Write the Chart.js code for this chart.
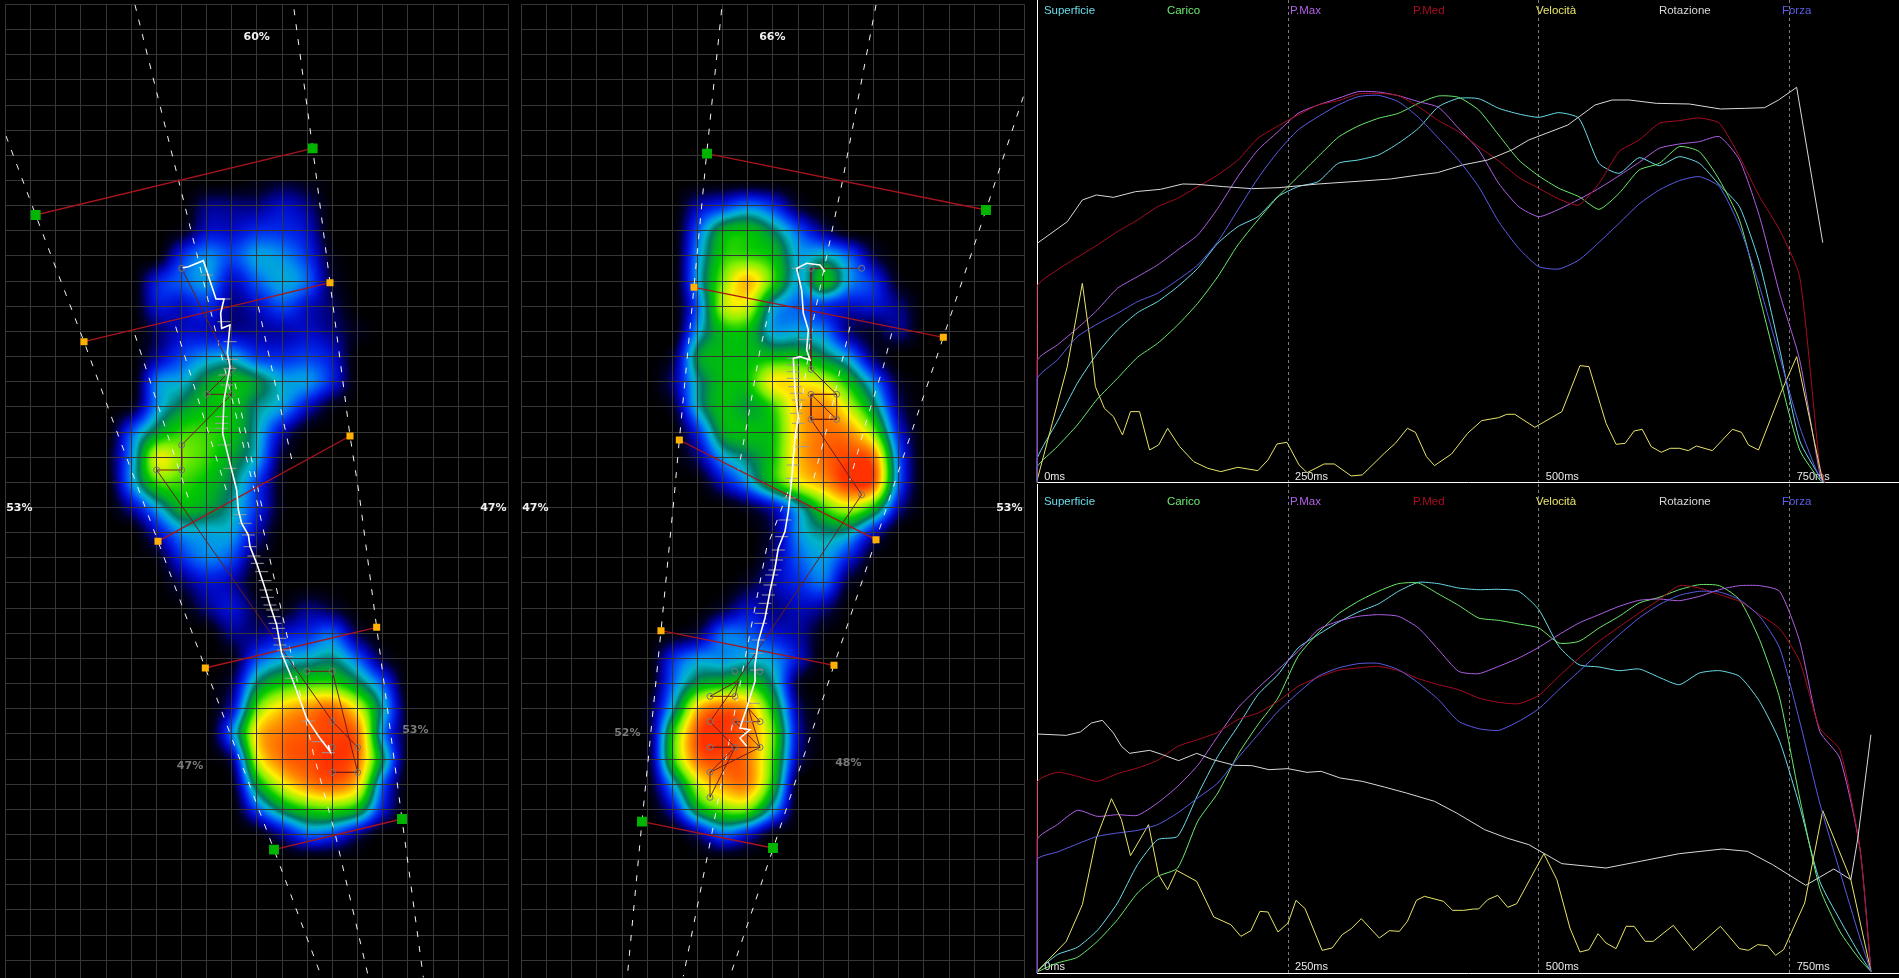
<!DOCTYPE html>
<html>
<head>
<meta charset="utf-8">
<title>Baropodometria</title>
<script src="https://cdn.jsdelivr.net/npm/chart.js@4/dist/chart.umd.js"></script>
<style>
html, body { margin: 0; height: 100%; background: #000; overflow: hidden; }
canvas { position: absolute; display: block; }
</style>
</head>
<body>
<canvas id="leftFoot" width="520" height="978" style="left:0;top:0"></canvas>
<canvas id="rightFoot" width="510" height="978" style="left:520px;top:0"></canvas>
<canvas id="topGraph" width="869" height="484" style="left:1030px;top:0"></canvas>
<canvas id="bottomGraph" width="869" height="494" style="left:1030px;top:484px"></canvas>
<script>
// ---- foot maps: sensor grid, in units of 1/3 px of the original picture
const gridYTicks = [13,88,163,238,316,391,466,541,616,691,766,844,919,994,1069,1144,1219,1297,1372,1447,1522,1597,1672,1747,1825,1900,1975,2050,2125,2200,2278,2353,2428,2503,2578,2653,2728,2806,2881];
const leftGridX = [17,92,167,241,320,395,470,545,620,695,770,848,923,997,1073,1148,1223,1300,1375,1451,1524];
const rightGridX = [5,80,155,230,308,383,458,533,608,683,758,836,911,986,1061,1136,1211,1289,1364,1439,1512];

// pressure at grid crossings, columns 4..16, rows 7..34
const leftFootHeat = [
  [0,0,0,0,0,0,.2,.5,.3,0,0,0,0],
  [0,0,0,0,1,1,1,1.5,1,0,0,0,0],
  [0,0,0,.3,1.5,1.5,2,2,1.5,0,0,0,0],
  [0,0,.1,2,2.9,2.3,3.1,2.9,2,.3,0,0,0],
  [0,0,1.8,2.5,3,1.5,2.5,3.2,2.5,.5,0,0,0],
  [0,0,1.6,1.5,2,1,1.5,2.3,1.5,.8,0,0,0],
  [0,0,.8,1.5,1.5,1.2,1.2,1.3,1.5,1,.3,0,0],
  [0,0,1.2,2.3,3,3.2,2.2,2,2.2,1.6,0,0,0],
  [0,0,2.8,3.3,4.5,5,4.3,3.2,3,1.8,0,0,0],
  [0,.4,3,4.3,5,5,3.8,3,1.5,.3,0,0,0],
  [0,2.5,4.5,5.5,5.5,5,3.5,1.3,.1,0,0,0,0],
  [.3,3,6.7,6,5.5,4.5,3.2,.5,0,0,0,0,0],
  [.1,3,5.5,5.5,5,4,2.2,.2,0,0,0,0,0],
  [0,1.3,3.2,4.8,4.5,3.6,2,.2,0,0,0,0,0],
  [0,0,1.5,3,3.2,3.1,1.3,0,0,0,0,0,0],
  [0,0,.3,2,2.8,2.3,.5,0,0,0,0,0,0],
  [0,0,0,.8,1.6,1.3,.2,0,0,0,0,0,0],
  [0,0,0,.1,1,1.6,.6,.3,1,.6,0,0,0],
  [0,0,0,0,0,1,1,1.6,2,2.5,.7,0,0],
  [0,0,0,0,0,.3,2.3,3.2,3.5,3.8,2.5,.6,0],
  [0,0,0,0,0,.8,4,5.2,5.5,5.5,4.3,2.4,0],
  [0,0,0,0,0,1.5,5.8,7.4,8,8.4,6.8,3.5,.3],
  [0,0,0,0,0,2.8,7.2,8.3,8.6,8.8,8.2,3,.4],
  [0,0,0,0,0,1,6.5,8.3,8.7,9,8.2,4,.2],
  [0,0,0,0,0,.3,4.5,6.8,8,8.4,7.2,2.5,0],
  [0,0,0,0,0,0,2.3,4.3,5.3,5.5,4.7,1.7,0],
  [0,0,0,0,0,0,.1,1.2,2.5,2.2,1,0,0],
  [0,0,0,0,0,0,0,0,0,0,0,0,0]
];
const rightFootHeat = [
  [0,0,0,0,0,0,0,0,0,0,0,0,0],
  [0,0,0,1.3,2,2.7,2,.5,0,0,0,0,0],
  [0,0,0,2.5,4.7,5,4,2.4,1,.1,0,0,0],
  [0,0,0,3,5.3,5.5,5,3.2,3.5,2.5,.7,0,0],
  [0,0,0,3.2,6,7.5,5.5,3.2,5,3,2,.3,0],
  [0,0,0,2.6,6.3,6.5,3.4,2.5,2,1.5,1.6,1,0],
  [0,0,0,3.2,5,5,3.2,3.2,2.8,1,.5,1,0],
  [0,0,.6,4.3,5,5,5,5,4.2,3,.8,0,0],
  [0,0,1,3.7,5,5.2,7,7,6.5,5,2.8,.5,0],
  [0,0,.5,3.5,5,4.5,5.5,7.5,8,6.5,4.2,1,0],
  [0,0,0,2,4.6,5,5.2,7.5,8.3,8,6,1.8,0],
  [0,0,0,1,3.1,4,5.2,7.5,8.4,8.8,8.2,2.5,0],
  [0,0,0,.1,1.5,3,5,6.8,7.8,9,8.5,2.5,0],
  [0,0,0,0,0,.5,1.5,3.5,5.5,6.5,5,1.3,0],
  [0,0,0,0,0,0,.8,3,3.8,3.5,1.5,0,0],
  [0,0,0,0,0,0,1,2.5,3.1,1.8,.2,0,0],
  [0,0,0,0,0,.5,1.3,2,2.6,.5,0,0,0],
  [0,0,0,0,.6,1.5,1,1.4,1,0,0,0,0],
  [0,0,.2,.8,2.6,2.5,1.7,1.2,.2,0,0,0,0],
  [0,0,2,3,3,3.3,3,1.5,0,0,0,0,0],
  [0,0,2.6,4.5,5,5.3,3.8,.5,0,0,0,0,0],
  [0,.4,3.6,7.5,8.5,7.8,5,1,0,0,0,0,0],
  [0,.4,5.3,8.7,9,8.2,5.8,1.3,0,0,0,0,0],
  [0,.4,5.3,8.3,8.7,8.2,5.5,1,0,0,0,0,0],
  [0,.2,3.2,6.5,7.8,8,5,.1,0,0,0,0,0],
  [0,0,1.5,4.6,5.8,5.8,3.2,0,0,0,0,0,0],
  [0,0,0,1,2.5,1.6,.2,0,0,0,0,0,0],
  [0,0,0,0,0,0,0,0,0,0,0,0,0]
];

// dashed guide lines
const leftGuides = [
  [[18,408],[107,645],[252,1025],[345,1280],[474,1624],[616,2004],[822,2549],[965,2932]],
  [[882,28],[938,445],[990,848],[1050,1308],[1078,1486],[1130,1882],[1206,2457],[1270,2932]],
  [[405,15],[590,760],[770,1500],[940,2260],[1005,2500],[1105,2930]],
  [[405,1005],[570,1510]],
  [[527,980],[685,1490]],
  [[775,920],[880,1400]],
  [[705,1150],[790,1540]]
];
const rightGuides = [
  [[605,28],[560,460],[522,860],[478,1320],[463,1484],[423,1892],[366,2464],[322,2929]],
  [[1510,290],[1398,630],[1270,1012],[1140,1400],[1068,1619],[942,1996],[760,2544],[630,2929]],
  [[1068,15],[968,540],[880,960],[808,1464],[740,1644],[650,2104],[575,2504],[490,2929]],
  [[750,920],[720,1050],[685,1250],[655,1410]],
  [[990,980],[960,1110],[930,1250],[880,1440]],
  [[1115,1000],[1090,1100],[1040,1260],[990,1440]]
];

const leftRedLines = [
  [[107,645],[938,445]], [[252,1025],[990,848]], [[1050,1308],[474,1624]], [[616,2004],[1130,1882]], [[822,2549],[1206,2457]]
];
const rightRedLines = [
  [[561,461],[1398,630]], [[522,862],[1270,1012]], [[478,1320],[1068,1619]], [[423,1892],[942,1996]], [[366,2465],[759,2544]]
];
const leftGreenMarks = [[107,645],[938,445],[822,2549],[1206,2457]];
const rightGreenMarks = [[561,461],[1398,630],[366,2465],[759,2544]];
const leftOrangeMarks = [[252,1025],[990,848],[1050,1308],[474,1624],[616,2004],[1130,1882]];
const rightOrangeMarks = [[522,862],[1270,1012],[478,1320],[1068,1619],[423,1892],[942,1996]];

// centre of pressure and its gait steps
const leftCop = [[548,803],[565,800],[610,782],[648,897],[672,897],[662,940],[665,985],[690,975],[682,1060],[690,1100],[672,1200],[668,1300],[690,1390],[710,1470],[715,1530],[725,1570],[745,1605],[750,1640],[770,1690],[795,1765],[810,1815],[830,1875],[845,1960],[880,2045],[920,2155],[960,2215],[990,2254],[985,2235]];
const rightCop = [[915,815],[900,795],[860,790],[830,805],[845,870],[850,940],[865,990],[860,1050],[870,1080],[840,1070],[820,1075],[825,1170],[835,1250],[825,1310],[815,1440],[805,1534],[795,1594],[775,1644],[765,1704],[750,1774],[735,1854],[715,1924],[705,1994],[705,2044],[680,2124],[660,2184],[690,2189],[660,2214],[680,2239]];
const leftSteps = [[620,825],[672,897],[672,965],[690,1025],[695,1078],[690,1105],[675,1125],[680,1155],[665,1250],[665,1270],[665,1285],[672,1335],[690,1405],[720,1544],[735,1570],[745,1605],[750,1640],[762,1668],[772,1690],[785,1715],[795,1742],[798,1770],[802,1792],[810,1815],[818,1830],[822,1850],[825,1870],[835,1885],[840,1915],[840,1935],[850,1950],[860,1970],[875,2035],[925,2163],[955,2225],[985,2258]];
const rightSteps = [[835,805],[855,1018],[820,1075],[820,1095],[820,1115],[820,1135],[825,1160],[830,1180],[835,1200],[830,1240],[835,1270],[848,1340],[820,1395],[815,1435],[808,1494],[795,1560],[785,1610],[775,1650],[770,1680],[765,1710],[755,1725],[750,1755],[745,1785],[735,1810],[725,1840],[722,1870],[715,1920],[710,1960],[710,2010],[700,2110],[680,2165]];

// thin path through the peak cells
const leftPeakPath = [[545,805],[695,1108],[620,1183],[695,1183],[545,1335],[545,1410],[470,1410],[997,2164],[1073,2242],[1073,2317],[997,2317],[1073,2317],[997,2014],[920,2014]];
const rightPeakPath = [[1025,805],[873,805],[873,1108],[950,1183],[873,1183],[873,1258],[950,1258],[950,1183],[873,1183],[950,1258],[873,1258],[1025,1484],[650,2044],[570,2089],[645,2089],[655,2044],[570,2165],[645,2242],[570,2242],[720,2242],[685,2125],[720,2165],[645,2165],[720,2242],[570,2317],[645,2242],[570,2392],[570,2317]];
const leftPeakNodes = [[545,805],[695,1108],[620,1183],[695,1183],[545,1335],[545,1410],[470,1410],[920,2014],[997,2014],[997,2164],[997,2242],[1073,2242],[997,2317],[1073,2317]];
const rightPeakNodes = [[1025,805],[873,805],[873,1108],[950,1183],[873,1183],[873,1258],[950,1258],[1025,1484],[645,2014],[720,2014],[570,2089],[645,2089],[570,2165],[645,2165],[720,2165],[570,2242],[645,2242],[720,2242],[570,2317],[570,2392]];

const leftLabels = [['60%',770,110],['53%',58,1524],['47%',1480,1524]];
const leftGreyLabels = [['53%',1246,2190],['47%',570,2298]];
const rightLabels = [['66%',757,110],['47%',46,1524],['53%',1468,1524]];
const rightGreyLabels = [['52%',322,2199],['48%',985,2289]];

// ---- graphs
const seriesNames = ['Superficie','Carico','P.Max','P.Med','Velocità','Rotazione','Forza'];
const seriesColors = ['#6adcea','#6cea6c','#b060e6','#a80c22','#e8e468','#d8d8d8','#5c5ce8'];
const graphTicks = [0,250,500,750];

const topTimes = [0,0,20,40,60,80,100,120,140,160,180,200,220,240,260,280,300,320,340,360,380,400,420,440,460,480,500,520,540,560,580,600,620,640,660,680,700,720,740,760,780,785];
const topSuperficie = [0,72,182,297,387,457,509,542,587,642,717,767,797,857,887,902,957,967,982,1017,1062,1127,1152,1151,1122,1105,1095,1109,1092,957,927,974,950,977,957,892,827,657,400,125,17,0];
const topCarico = [0,47,107,172,250,312,375,417,472,537,617,712,787,857,917,977,1035,1069,1092,1107,1137,1159,1155,1117,1042,967,919,882,857,819,867,937,957,1007,992,907,787,557,317,97,7,0];
const topPMax = [0,365,412,462,517,582,617,652,697,742,822,917,997,1052,1107,1132,1152,1172,1171,1160,1142,1125,1062,997,897,827,797,819,849,882,920,960,1002,1015,1022,1037,967,797,567,367,27,0];
const topPMed = [0,587,637,675,712,752,787,827,852,887,922,967,1032,1069,1102,1132,1145,1165,1167,1160,1127,1085,1052,1007,964,915,882,850,832,897,992,1027,1077,1085,1093,1077,977,857,757,617,47,0];
const topForza = [0,310,367,437,475,507,542,567,607,652,722,817,912,992,1057,1097,1132,1157,1161,1142,1095,1032,967,887,782,702,647,640,667,720,777,835,877,905,917,887,767,587,377,167,12,0];
const topVelocitaT = [0,15,30,45,54,58,67,76,85,93,102,112,121,130,142,156,170,183,200,220,230,239,249,261,269,286,296,313,324,346,357,369,377,388,396,413,429,443,460,468,476,496,523,541,550,567,577,586,595,603,612,622,631,640,649,657,673,693,702,709,719,741,757,783];
const topVelocita = [7,177,347,597,397,287,222,197,142,212,212,97,112,162,107,62,42,32,45,35,67,115,120,52,29,55,55,19,22,87,117,162,150,77,50,85,147,185,194,204,204,165,212,350,347,177,114,117,154,159,107,90,102,102,95,109,95,159,150,112,97,267,377,2];
const topRotazioneT = [0,30,45,59,76,98,123,145,159,186,214,241,280,324,352,380,399,424,449,473,490,529,556,573,590,617,650,681,706,725,739,757,783];
const topRotazione = [717,782,847,862,855,872,879,895,894,887,881,884,895,904,910,922,929,952,967,997,1027,1072,1132,1147,1147,1137,1135,1120,1122,1124,1147,1185,719];

const bottomTimes = [0,0,20,40,60,80,100,120,140,160,180,200,220,240,260,280,300,320,340,360,380,400,420,440,460,480,500,520,540,560,580,600,620,640,660,680,700,720,740,760,780,800,820,831];
const bottomSuperficie = [0,5,55,77,128,210,325,400,410,535,650,740,835,895,975,1015,1052,1083,1107,1145,1172,1168,1155,1150,1151,1145,1090,980,925,918,907,912,887,865,900,907,890,815,695,500,275,160,55,5];
const bottomCarico = [0,3,30,47,95,160,240,290,315,455,540,655,745,825,950,1020,1077,1115,1145,1168,1170,1137,1103,1065,1058,1047,1035,990,995,1035,1070,1110,1127,1150,1165,1162,1120,1000,825,525,255,125,40,5];
const bottomPMax = [0,400,445,488,470,475,473,510,560,623,710,795,855,910,965,1030,1055,1070,1075,1070,1035,970,905,898,920,945,977,1015,1050,1075,1100,1118,1122,1117,1130,1150,1162,1162,1145,995,725,645,375,5];
const bottomPMed = [0,572,602,590,575,598,615,638,680,700,722,760,780,815,860,887,908,915,920,907,883,865,850,825,812,808,833,890,945,995,1038,1080,1120,1162,1155,1135,1115,1075,1033,935,735,670,375,5];
const bottomForza = [0,340,363,387,410,420,428,445,480,525,570,645,715,785,840,890,915,928,929,910,870,820,755,733,728,755,793,850,905,960,1015,1065,1105,1133,1145,1143,1120,1070,975,755,510,305,105,5];
const bottomVelocitaT = [0,29,45,59,74,84,93,111,121,130,139,159,176,193,203,213,222,230,240,250,258,267,284,294,304,313,323,341,351,361,369,378,386,405,414,425,435,440,449,459,469,478,505,518,531,541,550,559,567,577,587,595,606,614,634,654,681,700,709,718,728,736,744,765,783,811,831];
const bottomVelocita = [5,95,205,405,523,460,352,445,295,250,308,275,168,145,110,127,185,183,123,150,218,193,68,75,115,133,163,105,127,125,155,218,230,215,188,188,192,192,220,233,197,208,358,280,135,63,70,118,90,73,140,140,95,95,143,68,140,73,68,85,82,53,70,210,487,280,5];
const bottomRotazioneT = [0,29,43,54,65,76,84,92,112,125,141,159,175,197,214,231,250,269,283,302,324,346,368,396,418,446,468,490,523,567,601,640,683,708,733,766,794,811,818,831];
const bottomRotazione = [717,713,723,750,758,720,680,659,668,655,637,659,640,623,622,610,613,602,605,585,575,558,540,515,480,430,405,385,328,315,335,358,372,365,325,263,312,280,405,715];

// ---- colour scale of the pressure map
const heatStops = [
  [0,0,0,0],[.5,0,0,40],[1,0,0,130],[1.5,0,10,200],[2,0,40,235],[2.5,0,90,245],[3,0,150,235],[3.4,0,180,200],[4,0,120,100],
  [4.6,0,170,40],[5.2,0,200,0],[6,130,240,0],[7,255,240,0],[8,255,140,0],[9,255,50,0]
];

function heatColor(v) {
    if (v <= 0) return [0,0,0];
    for (let i = 1; i < heatStops.length; i++) {
        if (v <= heatStops[i][0]) {
            const a = heatStops[i-1], b = heatStops[i];
            const t = (v - a[0]) / (b[0] - a[0]);
            return [a[1] + (b[1]-a[1])*t, a[2] + (b[2]-a[2])*t, a[3] + (b[3]-a[3])*t];
        }
    }
    return [255,50,0];
}

function catmull(p0, p1, p2, p3, t) {
    return p1 + 0.5*t*(p2-p0 + t*(2*p0-5*p1+4*p2-p3 + t*(3*(p1-p2)+p3-p0)));
}

function gridPos(nodes, v) {
    if (v <= nodes[0]) return 0;
    for (let i = 1; i < nodes.length; i++) {
        if (v <= nodes[i]) return i - 1 + (v - nodes[i-1]) / (nodes[i] - nodes[i-1]);
    }
    return nodes.length - 1;
}

function sampleHeat(values, cx, cy) {
    const rows = values.length, cols = values[0].length;
    const ix = Math.min(Math.floor(cx), cols-2), iy = Math.min(Math.floor(cy), rows-2);
    const at = (r, c) => values[Math.max(0, Math.min(rows-1, r))][Math.max(0, Math.min(cols-1, c))];
    const line = [];
    for (let r = iy-1; r <= iy+2; r++) {
        line.push(catmull(at(r,ix-1), at(r,ix), at(r,ix+1), at(r,ix+2), cx-ix));
    }
    return catmull(line[0], line[1], line[2], line[3], cy-iy);
}

// paints the map under the grid, positions come from the chart scales
function heatPlugin(values, gridX) {
    const colNodes = gridX.slice(4, 17), rowNodes = gridYTicks.slice(7, 35);
    return {
        id: 'heat',
        beforeDraw(chart) {
            const xs = chart.scales.x, ys = chart.scales.y;
            const left = Math.floor(xs.getPixelForValue(colNodes[0]));
            const right = Math.ceil(xs.getPixelForValue(colNodes[colNodes.length-1]));
            const top = Math.floor(ys.getPixelForValue(rowNodes[0]));
            const bottom = Math.ceil(ys.getPixelForValue(rowNodes[rowNodes.length-1]));
            const off = document.createElement('canvas');
            off.width = right - left; off.height = bottom - top;
            const octx = off.getContext('2d');
            const img = octx.createImageData(off.width, off.height);
            let n = 0;
            for (let py = top; py < bottom; py++) {
                const cy = gridPos(rowNodes, ys.getValueForPixel(py));
                for (let px = left; px < right; px++) {
                    const cx = gridPos(colNodes, xs.getValueForPixel(px));
                    const c = heatColor(sampleHeat(values, cx, cy));
                    img.data[n++] = c[0]; img.data[n++] = c[1]; img.data[n++] = c[2]; img.data[n++] = 255;
                }
            }
            octx.putImageData(img, 0, 0);
            chart.ctx.drawImage(off, left, top);
        }
    };
}

function labelPlugin(labels, color) {
    return {
        id: 'percent' + color.slice(1),
        afterDatasetsDraw(chart) {
            const ctx = chart.ctx;
            ctx.save();
            ctx.font = 'bold 11px "DejaVu Sans"';
            ctx.fillStyle = color;
            ctx.textAlign = 'center';
            ctx.textBaseline = 'middle';
            labels.forEach(l => ctx.fillText(l[0], chart.scales.x.getPixelForValue(l[1]), chart.scales.y.getPixelForValue(l[2])));
            ctx.restore();
        }
    };
}

const toPoints = list => list.map(p => ({ x: p[0], y: p[1] }));

function footChart(id, foot) {
    const guides = foot.guides.map(g => ({
        data: toPoints(g), showLine: true, borderColor: '#f4f4f4', borderWidth: 1, borderDash: [6,9], pointRadius: 0, tension: 0
    }));
    const reds = foot.reds.map(r => ({
        data: toPoints(r), showLine: true, borderColor: '#a8141c', borderWidth: 1.3, pointRadius: 0
    }));
    const datasets = [...guides, ...reds,
        { data: toPoints(foot.peak), showLine: true, borderColor: '#6e1c1c', borderWidth: 1, pointRadius: 0 },
        { data: toPoints(foot.nodes), showLine: false, pointRadius: 3, pointBackgroundColor: 'transparent', pointBorderColor: '#777', pointBorderWidth: 1 },
        { data: toPoints(foot.steps), showLine: false, pointStyle: 'line', pointRadius: 6.5, pointBorderColor: '#999', pointBorderWidth: 1 },
        { data: toPoints(foot.cop), showLine: true, borderColor: '#ffffff', borderWidth: 1.6, pointRadius: 0 },
        { data: toPoints(foot.green), showLine: false, pointStyle: 'rect', pointRadius: 7, pointBackgroundColor: '#00b400', pointBorderWidth: 0 },
        { data: toPoints(foot.orange), showLine: false, pointStyle: 'rect', pointRadius: 5, pointBackgroundColor: '#ffb000', pointBorderWidth: 0 }
    ];
    datasets.forEach((d, i) => { d.order = -i; });
    return new Chart(document.getElementById(id), {
        type: 'scatter',
        data: { datasets },
        plugins: [heatPlugin(foot.heat, foot.gridX), labelPlugin(foot.labels, '#f0f0f0'), labelPlugin(foot.grey, '#7a7a7a')],
        options: {
            responsive: false,
            animation: false,
            events: [],
            layout: { autoPadding: false, padding: foot.padding },
            plugins: { legend: { display: false }, tooltip: { enabled: false } },
            scales: {
                x: {
                    type: 'linear', min: foot.gridX[0], max: foot.gridX[foot.gridX.length-1],
                    afterBuildTicks: s => { s.ticks = foot.gridX.map(v => ({ value: v })); },
                    afterFit: s => { s.height = 0; },
                    grid: { color: '#363636', drawTicks: false },
                    border: { display: false },
                    ticks: { display: false }
                },
                y: {
                    type: 'linear', reverse: true, min: 13, max: 2934,
                    afterBuildTicks: s => { s.ticks = gridYTicks.map(v => ({ value: v })); },
                    afterFit: s => { s.width = 0; },
                    grid: { color: '#363636', drawTicks: false },
                    border: { display: false },
                    ticks: { display: false }
                }
            }
        }
    });
}

const legendPlugin = {
    id: 'topLegend',
    afterDraw(chart) {
        const ctx = chart.ctx;
        const y = chart.options.plugins.topLegend.y;
        ctx.save();
        ctx.font = '11.5px "Liberation Sans"';
        ctx.textBaseline = 'middle';
        seriesNames.forEach((name, i) => {
            ctx.fillStyle = seriesColors[i];
            ctx.fillText(name, 1043.9 - 1030 + 123 * i, y);
        });
        ctx.restore();
    }
};

function graphChart(id, graph) {
    const zip = (ts, vs) => ts.map((t, i) => ({ x: t, y: vs[i] }));
    const series = [
        zip(graph.times, graph.superficie), zip(graph.times, graph.carico), zip(graph.times, graph.pMax), zip(graph.times, graph.pMed),
        zip(graph.velocitaT, graph.velocita), zip(graph.rotazioneT, graph.rotazione), zip(graph.times, graph.forza)
    ];
    const datasets = series.map((data, i) => ({
        label: seriesNames[i], data, showLine: true, borderColor: seriesColors[i], borderWidth: 1,
        pointRadius: 0, tension: (i === 4 || i === 5) ? 0 : 0.2, clip: false, order: -i
    }));
    return new Chart(document.getElementById(id), {
        type: 'scatter',
        data: { datasets },
        plugins: [legendPlugin],
        options: {
            responsive: false,
            animation: false,
            events: [],
            layout: { autoPadding: false, padding: { left: 7.2, right: 0, top: 0, bottom: graph.bottomPad } },
            plugins: { legend: { display: false }, tooltip: { enabled: false }, topLegend: { y: graph.legendY } },
            scales: {
                x: {
                    type: 'linear', min: 0, max: 859,
                    afterBuildTicks: s => { s.ticks = graphTicks.map(v => ({ value: v })); },
                    afterFit: s => { s.height = 0; },
                    grid: { color: c => c.index === 0 ? 'transparent' : '#7c7c7c', drawTicks: false },
                    border: { display: true, color: '#ffffff', width: 1, dash: [3,3] },
                    ticks: {
                        color: '#e8e8e8', font: { family: 'Liberation Sans', size: 11 }, align: 'start', labelOffset: 7, mirror: true,
                        padding: -1, maxRotation: 0, autoSkip: false, callback: v => v + 'ms'
                    }
                },
                y: {
                    type: 'linear', min: 0, max: graph.yMax,
                    afterFit: s => { s.width = 0; },
                    grid: { display: false },
                    border: { display: true, color: '#ffffff', width: 1 },
                    ticks: { display: false }
                }
            }
        }
    });
}

footChart('leftFoot', {
    heat: leftFootHeat, gridX: leftGridX, guides: leftGuides, reds: leftRedLines, peak: leftPeakPath, nodes: leftPeakNodes,
    steps: leftSteps, cop: leftCop, green: leftGreenMarks, orange: leftOrangeMarks, labels: leftLabels, grey: leftGreyLabels,
    padding: { left: 5.67, right: 12, top: 4.33, bottom: 0 }
});
footChart('rightFoot', {
    heat: rightFootHeat, gridX: rightGridX, guides: rightGuides, reds: rightRedLines, peak: rightPeakPath, nodes: rightPeakNodes,
    steps: rightSteps, cop: rightCop, green: rightGreenMarks, orange: rightOrangeMarks, labels: rightLabels, grey: rightGreyLabels,
    padding: { left: 1.67, right: 6, top: 4.33, bottom: 0 }
});
graphChart('topGraph', {
    times: topTimes, superficie: topSuperficie, carico: topCarico, pMax: topPMax, pMed: topPMed, forza: topForza,
    velocitaT: topVelocitaT, velocita: topVelocita, rotazioneT: topRotazioneT, rotazione: topRotazione,
    yMax: 1447, legendY: 11, bottomPad: 1.7
});
graphChart('bottomGraph', {
    times: bottomTimes, superficie: bottomSuperficie, carico: bottomCarico, pMax: bottomPMax, pMed: bottomPMed, forza: bottomForza,
    velocitaT: bottomVelocitaT, velocita: bottomVelocita, rotazioneT: bottomRotazioneT, rotazione: bottomRotazione,
    yMax: 1467, legendY: 18, bottomPad: 5
});
</script>
</body>
</html>
